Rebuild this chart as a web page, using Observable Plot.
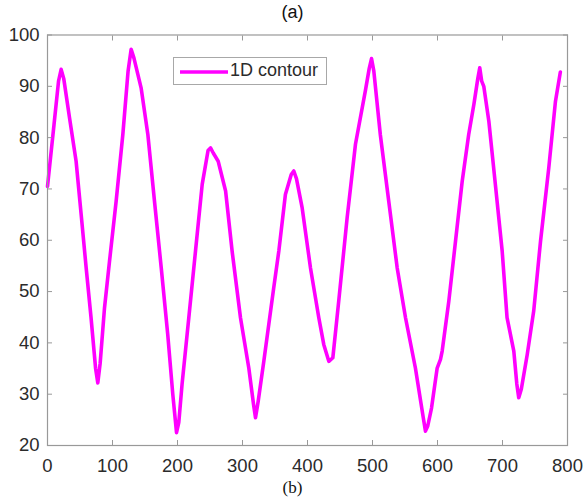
<!DOCTYPE html>
<html>
<head>
<meta charset="utf-8">
<script src="https://cdn.jsdelivr.net/npm/d3@7"></script>
<script src="https://cdn.jsdelivr.net/npm/@observablehq/plot@0.6"></script>
<style>
  html, body { margin: 0; padding: 0; background: #fff; }
  #wrap { position: relative; width: 585px; height: 502px; overflow: hidden; }
  #ta { position: absolute; left: 0; width: 585px; top: 2px; text-align: center;
        font: 18px "Liberation Sans", Arial, sans-serif; color: #111; }
  #tb { position: absolute; left: 0; width: 585px; top: 478px; text-align: center;
        font: 17px "Liberation Serif", "Times New Roman", serif; color: #111; }
  #legend { position: absolute; left: 173px; top: 57px; width: 152px; height: 26px;
            border: 1px solid #a8a8a8; background: #fff; box-sizing: content-box; }
  #legend svg { position: absolute; left: 5px; top: 12px; }
  #legend span { position: absolute; left: 56px; top: 2px;
                 font: 18px "Liberation Sans", Arial, sans-serif; color: #2b2b2b; white-space: nowrap; }
</style>
</head>
<body>
<div id="wrap">
  <div id="ta">(a)</div>
  <div id="chart"></div>
  <div id="legend"><svg width="50" height="4"><line x1="1" y1="2" x2="49" y2="2" stroke="#ff00ff" stroke-width="3.5"/></svg><span>1D contour</span></div>
  <div id="tb">(b)</div>
</div>
<script>
const xs = [0, 10, 17, 21, 25, 33.8, 44, 51.8, 59.5, 67, 74, 77.4, 81, 87.7, 95.4, 105.6, 115.9, 124, 128.7, 133,
  144, 154.4, 164.6, 175, 185, 192.8, 198.5, 202, 207, 217.4, 227.7, 238, 247, 250.8, 255, 262.6, 274, 284, 296.9,
  309.7, 317, 320, 324, 332.8, 348, 355.9, 366, 375, 378.9, 383, 391.8, 404.6, 417.4, 425, 432.8, 439, 448, 461,
  473.8, 489, 495, 498.5, 502, 512, 525, 538, 550.8, 566, 578, 581.5, 585, 590.8, 599.5, 604.6, 607.2, 617.4,
  627.7, 638, 648, 656, 662, 665, 668, 671.2, 679, 689, 699.5, 707, 717.4, 722, 725, 729, 738, 748, 758.5, 771.2,
  781.5, 789];
const ys = [70.5, 82.5, 91, 93.3, 91.5, 83.9, 75.4, 65, 54.6, 44.9, 35, 32.2, 36, 46.8, 55.9, 67.6, 80.6, 93, 97.2, 95.5,
  89.7, 80.6, 67.6, 54.6, 41.6, 29.9, 22.5, 24.5, 31.9, 44.9, 57.9, 70.9, 77.5, 78.0, 77, 75.4, 69.6, 57.9, 44.9,
  35.1, 28, 25.4, 28.5, 36.4, 50.7, 57.9, 68.9, 72.8, 73.5, 72, 66.3, 54.6, 44.9, 39.7, 36.4, 37.1, 48.1, 64.4,
  78.7, 89.1, 93.5, 95.4, 93, 80.6, 67.6, 54.6, 44.9, 35.1, 25.5, 22.8, 23.8, 27.3, 35.1, 36.8, 38.4, 48.1,
  59.8, 71.5, 80.6, 86.5, 91.5, 93.6, 91, 90.0, 83.2, 70.9, 57.9, 44.9, 38.4, 32, 29.3, 31, 37.7, 46.2, 59.8, 74.1,
  87.1, 92.8];
const xTicks = [0, 100, 200, 300, 400, 500, 600, 700, 800];
const yTicks = [20, 30, 40, 50, 60, 70, 80, 90, 100];
const seriesName = "1D contour";

const data = xs.map((x, i) => ({x, y: ys[i]}));
const axisColor = "#999";
const labelColor = "#2b2b2b";
const font = '"Liberation Sans", Arial, sans-serif';
const tk = 5;

const chart = Plot.plot({
  width: 585,
  height: 502,
  marginTop: 34.5,
  marginBottom: 57,
  marginLeft: 47,
  marginRight: 18,
  style: {fontFamily: font, fontSize: "18.5px", color: labelColor, background: "transparent"},
  x: {domain: [0, 800]},
  y: {domain: [20, 100]},
  marks: [
    Plot.line(data, {x: "x", y: "y", stroke: "#ff00ff", strokeWidth: 3.6, curve: "linear", strokeLinejoin: "round", strokeLinecap: "round"}),
    Plot.frame({stroke: axisColor, strokeWidth: 1.2}),
    Plot.axisX(xTicks, {anchor: "bottom", tickSize: tk, dy: -tk, fill: "none", stroke: axisColor}),
    Plot.axisX(xTicks, {anchor: "top", tickSize: tk, dy: tk, fill: "none", stroke: axisColor}),
    Plot.axisY(yTicks, {anchor: "left", tickSize: tk, dx: tk, fill: "none", stroke: axisColor}),
    Plot.axisY(yTicks, {anchor: "right", tickSize: tk, dx: -tk, fill: "none", stroke: axisColor}),
    Plot.axisX(xTicks, {anchor: "bottom", tickSize: 0, tickPadding: 13, fill: labelColor, label: null}),
    Plot.axisY(yTicks, {anchor: "left", tickSize: 0, tickPadding: 8, fill: labelColor, label: null})
  ]
});
chart.style.position = "absolute";
chart.style.left = "0px";
chart.style.top = "0px";
document.getElementById("chart").appendChild(chart);
document.querySelector("#legend span").textContent = seriesName;
</script>
</body>
</html>
